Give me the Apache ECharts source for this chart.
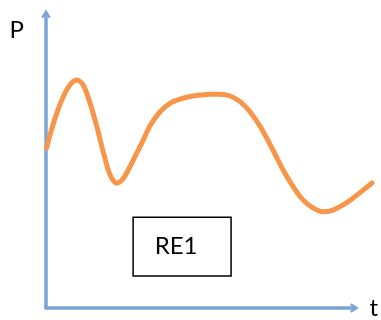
<!DOCTYPE html>
<html>
<head>
<meta charset="utf-8">
<script src="https://cdn.jsdelivr.net/npm/echarts@6/dist/echarts.min.js"></script>
<style>html,body{margin:0;padding:0;background:#fff}#c{width:381px;height:320px}</style>
</head>
<body>
<div id="c"></div>
<script>
// Curve samples (t, P)
const tValues = [0.2, 1.3, 3.5, 5.6, 7.7, 9.9, 12.0, 14.2, 16.4, 18.5, 20.6, 22.8, 24.9, 27.1, 29.3, 31.4, 33.5, 36.8, 40.0, 43.2, 46.5, 49.7, 52.9, 56.1, 59.4, 62.6, 65.8, 69.4, 73.2, 76.5, 79.7, 82.9, 86.1, 89.4, 92.6, 95.8, 99.0, 102.3, 105.2];
const pValues = [54.9, 59.3, 66.7, 72.2, 76.1, 77.8, 76.1, 70.0, 62.1, 53.4, 46.0, 43.0, 44.6, 48.6, 53.2, 57.6, 62.3, 67.1, 69.9, 71.3, 72.2, 72.7, 73.0, 73.0, 72.4, 70.5, 67.1, 61.6, 54.2, 47.5, 41.9, 37.4, 34.7, 33.4, 34.0, 35.7, 38.0, 40.7, 43.1];
const axisNames = ['t', 'P'];
const boxLabel = 'RE1';
const boxT = [28.1, 59.7];
const boxP = [11.8, 31.6];

const W = 381, gLeft = 46, gRight = 25, gTop = 14, gBottom = 9;
const xMaxWide = 100 * (W - gLeft) / (W - gLeft - gRight);

const chart = echarts.init(document.getElementById('c'), null, {renderer: 'canvas'});
const axisColor = '#7BA3D8';
const chevron = 'path://M5,0 L10,8 L8.2,9.6 L5,4.6 L1.8,9.6 L0,8 Z';
const font = 'Lato, "Open Sans", sans-serif';
const hiddenAxis = {show: false};
chart.setOption({
  animation: false,
  grid: [
    {left: gLeft, right: gRight, top: gTop, bottom: gBottom},
    {left: gLeft, right: 0, top: gTop, bottom: gBottom}
  ],
  xAxis: [{
    type: 'value', min: 0, max: 100, gridIndex: 0,
    name: axisNames[0], nameLocation: 'end', nameGap: 15,
    nameTextStyle: {color: '#000', fontSize: 24, fontFamily: font, verticalAlign: 'middle'},
    axisLine: {show: true, onZero: false, symbol: ['none', chevron], symbolSize: [10, 9], lineStyle: {color: axisColor, width: 3.5}},
    axisTick: {show: false}, axisLabel: {show: false}, splitLine: {show: false}
  }, Object.assign({type: 'value', min: 0, max: xMaxWide, gridIndex: 1}, hiddenAxis)],
  yAxis: [{
    type: 'value', min: 0, max: 100, gridIndex: 0,
    name: axisNames[1], nameLocation: 'end', nameGap: -16,
    nameTextStyle: {color: '#000', fontSize: 24, fontFamily: font, align: 'right', verticalAlign: 'middle', padding: [0, 22, 0, 0]},
    axisLine: {show: true, onZero: false, symbol: ['none', chevron], symbolSize: [10, 9], lineStyle: {color: axisColor, width: 3.5}},
    axisTick: {show: false}, axisLabel: {show: false}, splitLine: {show: false}
  }, Object.assign({type: 'value', min: 0, max: 100, gridIndex: 1}, hiddenAxis)],
  series: [{
    type: 'line',
    xAxisIndex: 1, yAxisIndex: 1,
    data: tValues.map((t, i) => [t, pValues[i]]),
    smooth: 0.3,
    clip: false,
    showSymbol: false,
    lineStyle: {color: '#F7964A', width: 5, cap: 'round', join: 'round'},
    z: 3,
    markArea: {
      silent: true,
      itemStyle: {color: '#fff', borderColor: '#000', borderWidth: 1.5},
      label: {show: true, position: 'inside', color: '#000', fontSize: 24, fontFamily: font, offset: [-6, 0]},
      data: [[{name: boxLabel, coord: [boxT[0], boxP[1]]}, {coord: [boxT[1], boxP[0]]}]]
    }
  }]
});
</script>
</body>
</html>
